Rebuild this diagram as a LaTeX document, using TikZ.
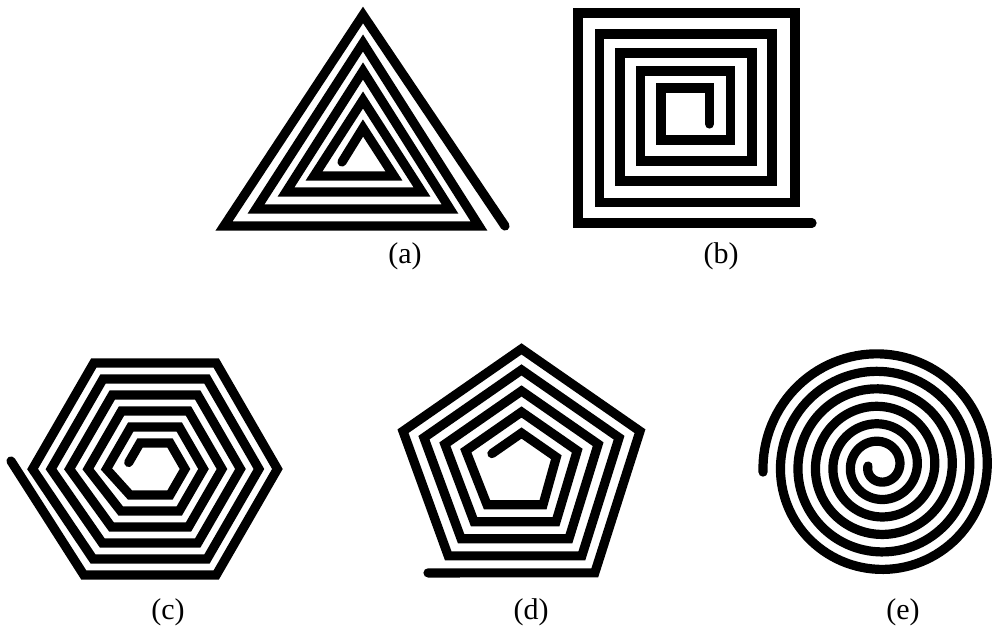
\documentclass[tikz,border=0pt]{standalone}
\usepackage{fontspec}
\setmainfont{Liberation Serif}
\begin{document}
\begin{tikzpicture}[x=1pt, y=-1pt,
        coil/.style={line width=9.2pt, line cap=round},
        tag/.style={font=\fontsize{30}{34}\selectfont, inner sep=0pt}]
    \useasboundingbox (0,0) rectangle (995,628);
    % (a) triangle
    \draw[coil] (505,226) -- (363,15) -- (224,226) -- (479,226) -- (363,43) -- (256,209)
        -- (450,209) -- (363,71) -- (286,192) -- (422,192) -- (363,100) -- (314,176)
        -- (394,176) -- (363,128) -- (342,162);
    % (b) square
    \draw[coil] (812,223) -- (578,223)
        \foreach \lx/\ty/\rx/\by/\nx in {578/13/795/202.5/599.5, 599.5/34/772/181/620,
            620/53/752/161/640.5, 640.5/71/730.5/140/661}{
            -- (\lx,\ty) -- (\rx,\ty) -- (\rx,\by) -- (\nx,\by)
        }
        -- (661,88) -- (709.5,88) -- (709.5,124);
    % (c) hexagon
    \begin{scope}[shift={(155,469)}]
        \draw[coil] (-144,-8)
            \foreach \k [evaluate=\k as \rr using (106-16*\k)/0.866] in {0,...,4}{
                -- ({-0.5*\rr-10},{0.866*\rr}) -- ({0.5*\rr},{0.866*\rr}) -- (\rr,0)
                -- ({0.5*\rr},{-0.866*\rr}) -- ({-0.5*\rr},{-0.866*\rr}) -- ({-\rr},0)
            }
            -- (-25,26) -- (15,26) -- (30,0) -- (15,-26) -- (-15,-26) -- (-26.3,-6.5);
    \end{scope}
    % (d) pentagon
    \begin{scope}[shift={(521.5,468)}]
        \draw[coil] (-93.5,104.9)
            \foreach \k [evaluate=\k as \rr using 124.6-22*\k] in {0,...,3}{
                -- ({0.588*\rr},{0.7734*(\rr+11)}) -- ({0.951*\rr},{-0.2954*\rr})
                -- (0,{-0.956*\rr}) -- ({-0.951*\rr},{-0.2954*\rr})
                -- ({-0.588*\rr},{0.7734*(\rr-11)})
            }
            -- (21.5,36.8) -- (34.8,-10.8) -- (0,-35) -- (-29.6,-14.4);
    \end{scope}
    % (e) circle
    \draw[coil] plot[domain=0:2163, samples=720, variable=\t]
        ({879.5+(11.5+0.048611*\t)*cos(180-\t)}, {466+(11.5+0.048611*\t)*sin(180-\t)});
    % captions
    \node[tag] (cap-a) at (405,256) {(a)};
    \node[tag] (cap-b) at (721,256) {(b)};
    \node[tag] (cap-c) at (168,612) {(c)};
    \node[tag] (cap-d) at (531,612) {(d)};
    \node[tag] (cap-e) at (903,612) {(e)};
\end{tikzpicture}
\end{document}
